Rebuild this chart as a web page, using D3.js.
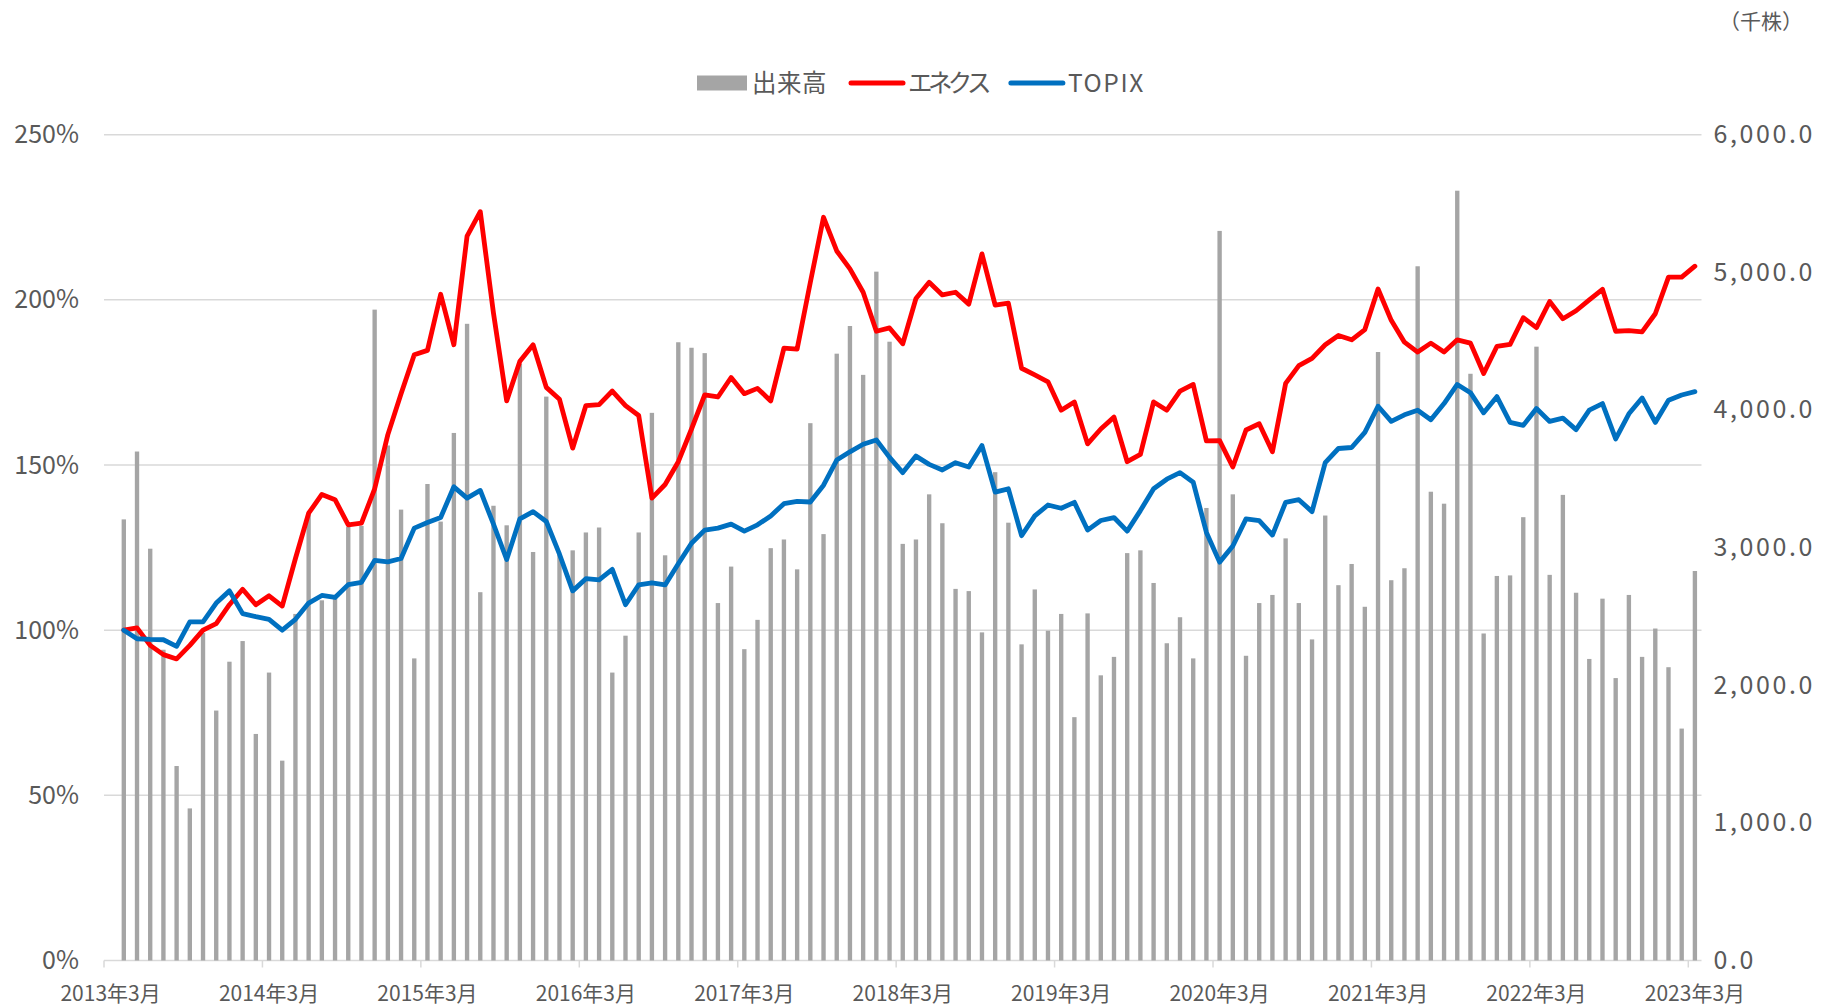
<!DOCTYPE html>
<html>
<head>
<meta charset="utf-8">
<script src="https://cdn.jsdelivr.net/npm/d3@7"></script>
<style>
  body { margin: 0; background: #fff; }
  text { font-family: "Noto Sans CJK JP", "Noto Sans", sans-serif; fill: #595959; }
</style>
</head>
<body>
<div class="chart"></div>
<script>
// 出来高 (千株), 2013年4月 .. 2023年3月
var volume = [
  3205, 3698, 2992, 2258, 1413, 1105, 2380, 1816, 2171, 2321, 1646, 2092,
  1452, 2518, 3250, 2617, 2637, 3150, 3158, 4729, 3742, 3276, 2195, 3462,
  3189, 3833, 4626, 2676, 3304, 3162, 4334, 2968, 4097, 2950, 2980, 3110,
  3146, 2092, 2360, 3110, 3979, 2944, 4492, 4452, 4413, 2597, 2862, 2262,
  2475, 2996, 3059, 2842, 3904, 3098, 4409, 4610, 4255, 5005, 4496, 3027,
  3059, 3387, 3177, 2700, 2684, 2384, 3548, 3181, 2297, 2696, 2396, 2518,
  1768, 2522, 2072, 2206, 2960, 2980, 2743, 2305, 2494, 2195, 3288, 5301,
  3387, 2214, 2597, 2656, 3067, 2597, 2333, 3233, 2727, 2881, 2570, 4421,
  2763, 2850, 5044, 3406, 3319, 5593, 4263, 2376, 2794, 2798, 3221, 4460,
  2802, 3383, 2672, 2191, 2629, 2052, 2656, 2206, 2412, 2131, 1685, 2830
];
// エネクス (%)
var enex = [
  100, 100.7, 95.4, 92.6, 91.3, 95.4, 100, 102, 107.7, 112.4, 107.7, 110.4,
  107.3, 121.7, 135.4, 141.1, 139.5, 131.9, 132.4, 142.8, 159.2, 171.6, 183.4, 184.7,
  201.7, 186.4, 219.3, 226.7, 196, 169.4, 181.4, 186.4, 173.5, 169.9, 155.1, 168,
  168.3, 172.4, 168, 165, 140, 144.1, 151, 160.9, 171.2, 170.6, 176.5, 171.6,
  173.2, 169.4, 185.4, 185.1, 205.3, 225, 214.8, 209.4, 202.3, 190.5, 191.5, 186.7,
  200.4, 205.3, 201.5, 202.3, 198.7, 213.9, 198.4, 199, 179.3, 177.3, 175.2, 166.6,
  169.1, 156.4, 160.9, 164.5, 151, 153.2, 169.1, 166.6, 172.4, 174.4, 157.3, 157.4,
  149.4, 160.6, 162.5, 154, 174.7, 180.1, 182.3, 186.4, 189.2, 187.9, 191, 203.3,
  193.8, 187.2, 184.2, 186.9, 184.2, 187.9, 186.9, 177.7, 185.9, 186.5, 194.6, 191.6,
  199.5, 194.3, 196.7, 200, 203.2, 190.5, 190.7, 190.3, 195.8, 206.9, 206.9, 210.2
];
// TOPIX (%)
var topix = [
  100, 97.4, 97.2, 97.1, 95.1, 102.5, 102.5, 108.2, 111.9, 105, 104.1, 103.3,
  100, 103.3, 108.2, 110.5, 109.9, 113.8, 114.5, 121.1, 120.7, 121.7, 130.9, 132.6,
  134.1, 143.4, 140, 142.3, 132.1, 121.4, 133.7, 135.9, 132.9, 123, 111.9, 115.6,
  115.2, 118.4, 107.7, 113.7, 114.3, 113.7, 120.1, 126.3, 130.3, 130.9, 132.1, 130,
  131.9, 134.6, 138.3, 139, 138.8, 143.9, 151.5, 154, 156.3, 157.6, 152.3, 147.7,
  152.7, 150.2, 148.5, 150.7, 149.4, 155.9, 141.8, 142.8, 128.6, 134.6, 137.9, 136.9,
  138.7, 130.3, 133.2, 134.1, 130, 136.2, 142.8, 145.7, 147.7, 144.8, 129.6, 120.6,
  125.5, 133.7, 133.2, 128.8, 138.7, 139.5, 135.9, 150.7, 155, 155.3, 159.9, 167.8,
  163.2, 165.2, 166.6, 163.7, 168.6, 174.4, 171.9, 165.8, 170.7, 162.9, 162, 167.1,
  163.2, 164.2, 160.7, 166.6, 168.6, 157.9, 165.5, 170.3, 162.9, 169.6, 171.2, 172.2
];
var leftTicks = [0, 50, 100, 150, 200, 250];
var rightTicks = [0, 1000, 2000, 3000, 4000, 5000, 6000];
var seriesNames = ["出来高", "エネクス", "TOPIX"];
var seriesColors = ["#a5a5a5", "#ff0000", "#0070c0"];

// axis months: 2013年3月 .. 2023年3月 (data starts one month later)
var months = [];
for (var i = 0; i <= 120; i++) {
  var m = 2 + i;
  months.push((2013 + Math.floor(m / 12)) + "年" + (m % 12 + 1) + "月");
}
var dataMonths = months.slice(1);

var width = 1821, height = 1007;
var plotL = 104, plotR = 1701.5, plotT = 134.7, plotB = 960.5;

var svg = d3.select(".chart").append("svg")
    .attr("width", width)
    .attr("height", height);

var x = d3.scaleBand().domain(months).range([plotL, plotR]);
var yL = d3.scaleLinear().domain([0, 250]).range([plotB, plotT]);
var yR = d3.scaleLinear().domain([0, 6000]).range([plotB, plotT]);

// gridlines
svg.append("g")
  .selectAll("line")
  .data(leftTicks)
  .join("line")
    .attr("x1", plotL).attr("x2", plotR)
    .attr("y1", d => yL(d)).attr("y2", d => yL(d))
    .attr("stroke", "#d9d9d9")
    .attr("stroke-width", 1.5);

// tick marks at year boundaries
var yearMonths = months.filter((d, i) => i % 12 == 0);
svg.append("g")
  .selectAll("line")
  .data(yearMonths)
  .join("line")
    .attr("x1", d => x(d)).attr("x2", d => x(d))
    .attr("y1", plotB).attr("y2", plotB + 7)
    .attr("stroke", "#d9d9d9")
    .attr("stroke-width", 1.5);

// bars
var barW = x.bandwidth() * 0.33;
svg.append("g")
  .selectAll("rect")
  .data(volume)
  .join("rect")
    .attr("x", (d, i) => x(dataMonths[i]) + x.bandwidth() / 2 - barW / 2)
    .attr("y", d => yR(d))
    .attr("width", barW)
    .attr("height", d => plotB - yR(d))
    .attr("fill", seriesColors[0]);

// lines
var line = d3.line()
    .x((d, i) => x(dataMonths[i]) + x.bandwidth() / 2)
    .y(d => yL(d));

[enex, topix].forEach(function(s, j) {
  svg.append("path")
    .datum(s)
    .attr("d", line)
    .attr("fill", "none")
    .attr("stroke", seriesColors[j + 1])
    .attr("stroke-width", 4.8)
    .attr("stroke-linejoin", "round")
    .attr("stroke-linecap", "round");
});

// axes
var xAxis = svg.append("g")
    .attr("transform", "translate(0," + plotB + ")")
    .call(d3.axisBottom(x).tickValues(yearMonths).tickSize(0).tickPadding(26));
xAxis.select(".domain").remove();
xAxis.selectAll("text").attr("font-size", 21);

var yAxisL = svg.append("g")
    .attr("transform", "translate(" + plotL + ",0)")
    .call(d3.axisLeft(yL).tickValues(leftTicks).tickFormat(d => d + "%").tickSize(0).tickPadding(25));
yAxisL.select(".domain").remove();
yAxisL.selectAll("text").attr("font-size", 25);

var yAxisR = svg.append("g")
    .attr("transform", "translate(" + plotR + ",0)")
    .call(d3.axisRight(yR).tickValues(rightTicks).tickFormat(d3.format(",.1f")).tickSize(0).tickPadding(12));
yAxisR.select(".domain").remove();
yAxisR.selectAll("text").attr("font-size", 25).attr("letter-spacing", 2.6);

svg.selectAll(".tick text").attr("fill", "#595959");
svg.selectAll("g").attr("font-family", null);

// unit label
svg.append("text")
  .attr("x", 1719).attr("y", 29)
  .attr("font-size", 21)
  .text("（千株）");

// legend
var legend = svg.append("g").attr("transform", "translate(697,83)");
var legendSpacing = [0.5, -4.6, 1.6];
var lx = 0;
seriesNames.forEach(function(name, j) {
  if (j == 0) {
    legend.append("rect")
      .attr("x", lx).attr("y", -7.5)
      .attr("width", 50).attr("height", 15)
      .attr("fill", seriesColors[0]);
    lx += 55;
  } else {
    legend.append("line")
      .attr("x1", lx + 2).attr("x2", lx + 54)
      .attr("y1", 0).attr("y2", 0)
      .attr("stroke", seriesColors[j])
      .attr("stroke-width", 5)
      .attr("stroke-linecap", "round");
    lx += 59;
  }
  var t = legend.append("text")
    .attr("x", lx).attr("y", 0)
    .attr("dy", "0.35em")
    .attr("font-size", 24.5)
    .attr("letter-spacing", legendSpacing[j])
    .text(name);
  lx += t.node().getComputedTextLength() + 22;
});
</script>
</body>
</html>
